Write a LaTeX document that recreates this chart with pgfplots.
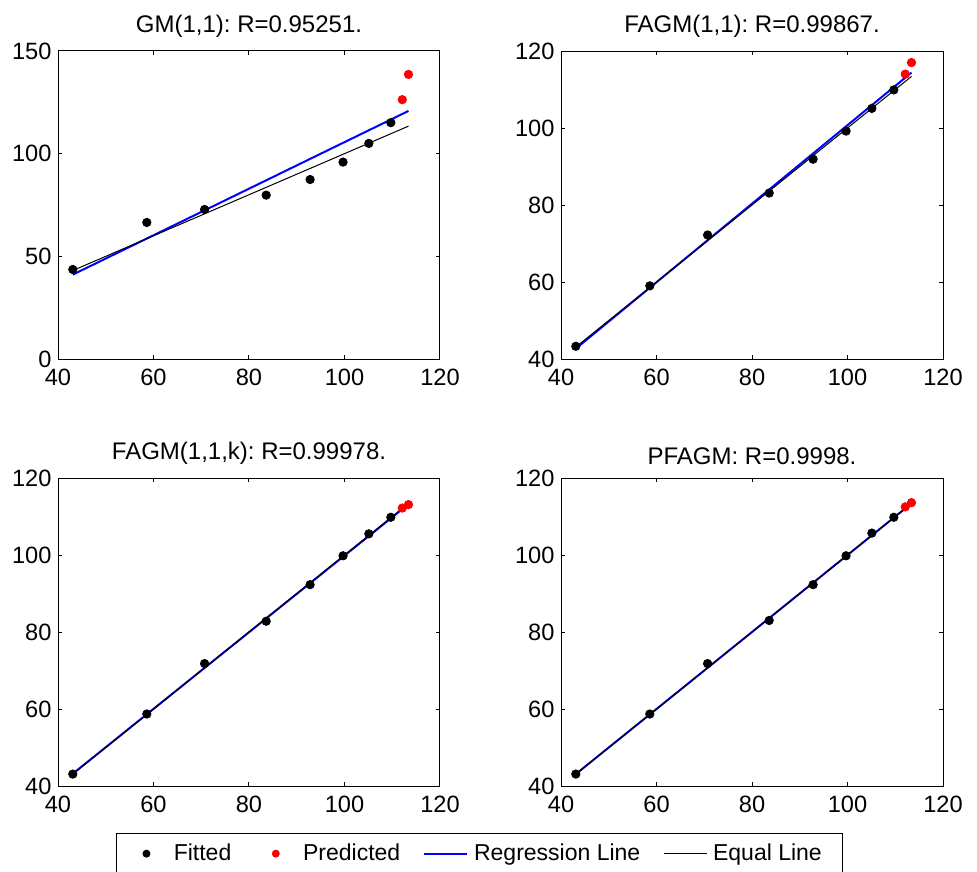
\documentclass[border=0pt]{standalone}
\usepackage{fontspec}
\setmainfont{Liberation Sans}
\usepackage{pgfplots}
\pgfplotsset{compat=1.18}
\frenchspacing

\pgfplotsset{
  panel/.style={
    scale only axis, width=191pt, height=154pt,
    xmin=40, xmax=120, xtick={40,60,...,120},
    tick align=inside, major tick length=2pt,
    tick label style={font=\fontsize{11.8}{13}\selectfont, inner sep=0pt},
    xticklabel shift=4.8pt, yticklabel shift=3.1pt,
    /pgf/number format/assume math mode=true,
    title style={font=\fontsize{12}{13}\selectfont, yshift=-3pt},
    axis line style={line width=0.5pt},
    every tick/.style={black, line width=0.5pt},
    clip=false,
  },
  fitted/.style={only marks, mark=*, mark size=2.1pt, black},
  predicted/.style={only marks, mark=*, mark size=2.1pt, red},
  regline/.style={blue, line width=1pt, no marks},
  eqline/.style={black, line width=0.5pt, no marks},
  legend image code/.code={\draw[#1] (0pt,0pt) -- (21.5pt,0pt);},
}

\begin{document}
\begin{tikzpicture}
\useasboundingbox (0,0) rectangle (488.5pt,-435.5pt);

% top left
\begin{axis}[panel, at={(29pt,-179.5pt)}, anchor=south west,
  ymin=0, ymax=150, ytick={0,50,100,150},
  title={GM(1,1): R=0.95251.}]
  \addplot[fitted] coordinates {(43.1,43.6) (58.6,66.5) (70.7,72.8) (83.6,79.8) (92.8,87.4) (99.7,95.9) (105.1,105.0) (109.7,115.1)};
  \addplot[predicted] coordinates {(112.1,126.3) (113.4,138.6)};
  \addplot[regline] coordinates {(43.1,41.1) (113.4,120.8)};
  \addplot[eqline] coordinates {(43.1,43.1) (113.4,113.4)};
\end{axis}

% top right
\begin{axis}[panel, at={(280.5pt,-179.5pt)}, anchor=south west,
  ymin=40, ymax=120, ytick={40,60,...,120},
  title={FAGM(1,1): R=0.99867.}]
  \addplot[fitted] coordinates {(43.1,43.3) (58.6,59.0) (70.7,72.2) (83.6,83.1) (92.8,91.9) (99.7,99.2) (105.1,105.1) (109.7,109.9)};
  \addplot[predicted] coordinates {(112.1,114.0) (113.4,117.0)};
  \addplot[regline] coordinates {(43.1,42.7) (113.4,114.4)};
  \addplot[eqline] coordinates {(43.1,43.1) (113.4,113.4)};
\end{axis}

% bottom left, carries the legend
\begin{axis}[panel, at={(29pt,-393pt)}, anchor=south west,
  ymin=40, ymax=120, ytick={40,60,...,120},
  title={FAGM(1,1,k): R=0.99978.},
  legend columns=4,
  legend style={at={(0.151,-0.1536)}, anchor=north west, draw=black,
    line width=0.5pt, font=\fontsize{11.5}{13}\selectfont,
    nodes={inner sep=0pt}, inner xsep=4.4pt, inner ysep=5pt,
    /tikz/every odd column/.append style={column sep=2.9pt},
    /tikz/every even column/.append style={column sep=11.5pt}},
  ]
  \addplot[fitted, forget plot] coordinates {(43.1,43.1) (58.6,58.7) (70.7,71.8) (83.6,82.8) (92.8,92.3) (99.7,99.8) (105.1,105.5) (109.7,109.8)};
  \addplot[predicted, forget plot] coordinates {(112.1,112.2) (113.4,113.1)};
  \addplot[regline, forget plot] coordinates {(43.1,43.2) (113.4,113.2)};
  \addplot[eqline, forget plot] coordinates {(43.1,43.1) (113.4,113.4)};
  \addlegendimage{legend image code/.code={\path[draw=none] (0pt,0pt) -- (21.5pt,0pt);
      \fill[black, draw=none] (10.75pt,0pt) circle (2pt);}}
  \addlegendentry{Fitted}
  \addlegendimage{legend image code/.code={\path[draw=none] (0pt,0pt) -- (21.5pt,0pt);
      \fill[red, draw=none] (10.75pt,0pt) circle (2pt);}}
  \addlegendentry{Predicted}
  \addlegendimage{regline}
  \addlegendentry{Regression Line}
  \addlegendimage{eqline}
  \addlegendentry{Equal Line\rule{6pt}{0pt}}
\end{axis}

% bottom right
\begin{axis}[panel, at={(280.5pt,-393pt)}, anchor=south west,
  ymin=40, ymax=120, ytick={40,60,...,120},
  title={PFAGM: R=0.9998.}]
  \addplot[fitted] coordinates {(43.1,43.1) (58.6,58.7) (70.7,71.8) (83.6,83.0) (92.8,92.3) (99.7,99.8) (105.1,105.7) (109.7,109.8)};
  \addplot[predicted] coordinates {(112.1,112.5) (113.4,113.6)};
  \addplot[regline] coordinates {(43.1,43.1) (113.4,113.4)};
  \addplot[eqline] coordinates {(43.1,43.1) (113.4,113.4)};
\end{axis}
\end{tikzpicture}
\end{document}
